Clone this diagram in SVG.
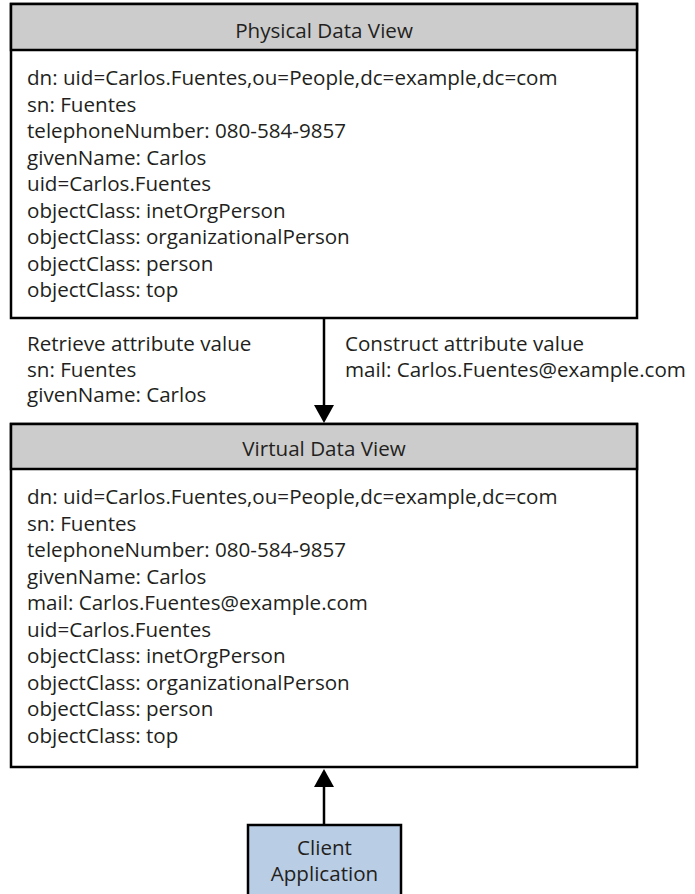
<svg xmlns="http://www.w3.org/2000/svg" width="695" height="894" viewBox="0 0 695 894">
<defs>
<style>
.box{fill:#ffffff;stroke:#000000;stroke-width:2.5}
.hdr{fill:#cccccc;stroke:#000000;stroke-width:2.5}
.client{fill:#b9cde5;stroke:#000000;stroke-width:2.5}
.conn{stroke:#000000;stroke-width:2.5;fill:none}
.head{fill:#000000;stroke:none}
text{font-family:"Open Sans","Liberation Sans",sans-serif;font-size:20.6px;fill:#231f20}
.c{text-anchor:middle}
</style>
</defs>
<rect width="695" height="894" fill="#ffffff"/>
<g id="physical">
<rect class="box" x="11" y="4" width="626" height="314"/>
<rect class="hdr" x="11" y="4" width="626" height="46"/>
<text class="c" x="324" y="38">Physical Data View</text>
<text x="27" y="85">dn: uid=Carlos.Fuentes,ou=People,dc=example,dc=com</text>
<text x="27" y="111.5">sn: Fuentes</text>
<text x="27" y="138">telephoneNumber: 080-584-9857</text>
<text x="27" y="164.5">givenName: Carlos</text>
<text x="27" y="191">uid=Carlos.Fuentes</text>
<text x="27" y="217.5">objectClass: inetOrgPerson</text>
<text x="27" y="244">objectClass: organizationalPerson</text>
<text x="27" y="270.5">objectClass: person</text>
<text x="27" y="297">objectClass: top</text>
</g>
<g id="virtual">
<rect class="box" x="11" y="424" width="626" height="343"/>
<rect class="hdr" x="11" y="424" width="626" height="45"/>
<text class="c" x="324" y="456">Virtual Data View</text>
<text x="27" y="504">dn: uid=Carlos.Fuentes,ou=People,dc=example,dc=com</text>
<text x="27" y="530.5">sn: Fuentes</text>
<text x="27" y="557">telephoneNumber: 080-584-9857</text>
<text x="27" y="583.5">givenName: Carlos</text>
<text x="27" y="610">mail: Carlos.Fuentes@example.com</text>
<text x="27" y="636.5">uid=Carlos.Fuentes</text>
<text x="27" y="663">objectClass: inetOrgPerson</text>
<text x="27" y="689.5">objectClass: organizationalPerson</text>
<text x="27" y="716">objectClass: person</text>
<text x="27" y="742.5">objectClass: top</text>
</g>
<g id="client">
<rect class="client" x="248" y="825" width="153" height="80"/>
<text class="c" x="324.5" y="855">Client</text>
<text class="c" x="324.5" y="881">Application</text>
</g>
<g id="connectors">
<line class="conn" x1="324" y1="318" x2="324" y2="406"/>
<polygon class="head" points="314,405 334,405 324,423"/>
<line class="conn" x1="324" y1="825" x2="324" y2="786"/>
<polygon class="head" points="314,787 334,787 324,769"/>
<text x="27" y="351">Retrieve attribute value</text>
<text x="27" y="376.5">sn: Fuentes</text>
<text x="27" y="402">givenName: Carlos</text>
<text x="345" y="351">Construct attribute value</text>
<text x="345" y="376.5">mail: Carlos.Fuentes@example.com</text>
</g>
</svg>
